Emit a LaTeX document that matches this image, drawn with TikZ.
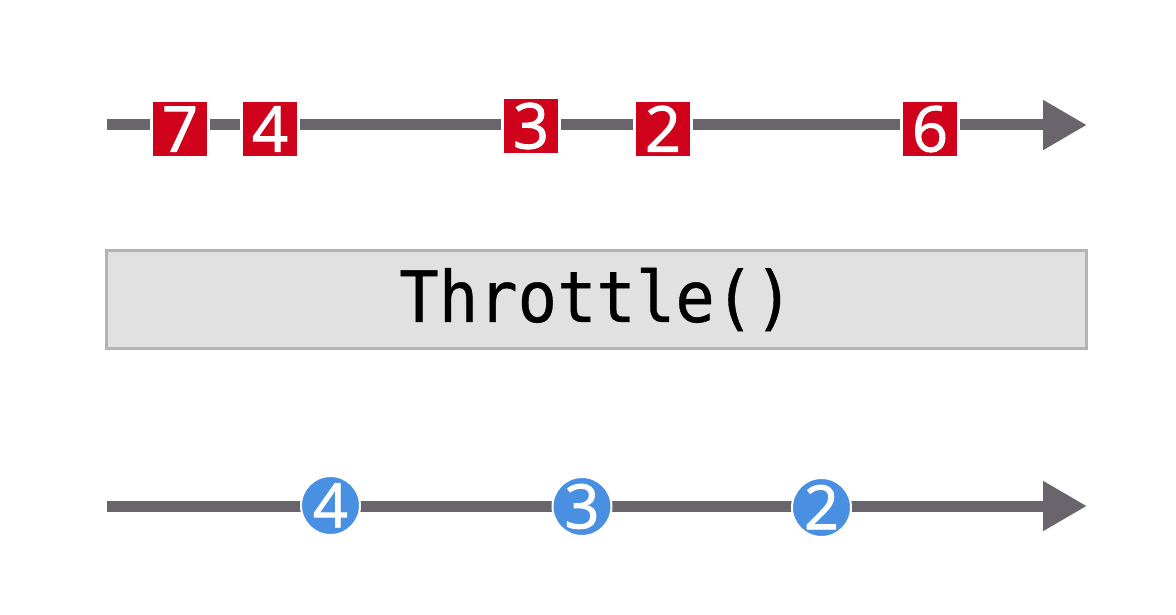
\documentclass[tikz,border=0pt]{standalone}
\usepackage{fontspec}
\usetikzlibrary{arrows.meta}
\newfontfamily\digitfont{Open Sans}[FakeBold=1.6]
\newfontfamily\codefont{DejaVu Sans Mono}[FakeBold=0.6]
\definecolor{evred}{RGB}{208,2,27}
\definecolor{evblue}{RGB}{74,144,226}
\definecolor{linegray}{RGB}{106,101,108}
\definecolor{boxfill}{RGB}{225,225,225}
\definecolor{boxborder}{RGB}{179,179,179}
\tikzset{
  timeline/.style={draw=linegray, line width=11pt, line cap=butt,
    -{Triangle[length=44pt, width=47pt]}},
  sqevent/.style={rectangle, fill=evred, draw=white, line width=3pt,
    minimum size=57pt, inner sep=0pt, text=white,
    font=\digitfont\fontsize{63}{63}\selectfont, text height=45pt, text depth=0pt},
  circevent/.style={circle, fill=evblue, draw=white, line width=2pt,
    minimum size=59pt, inner sep=0pt, text=white,
    font=\digitfont\fontsize{61}{61}\selectfont, text height=43.5pt, text depth=0pt},
  opbox/.style={rectangle, fill=boxfill, draw=boxborder, line width=3pt,
    minimum width=980pt, minimum height=98pt, inner sep=0pt,
    font=\codefont\fontsize{65.5}{65.5}\selectfont}
}
\begin{document}
\begin{tikzpicture}[x=1pt, y=-1pt]
\useasboundingbox (0,0) rectangle (1176,615);
% top timeline
\coordinate (a0) at (107,125);
\coordinate (a1) at (1087,125);
\draw[timeline] (a0) -- (a1);
\node[sqevent] (s7) at (180,129) {7};
\node[sqevent] (s4) at (270,129) {4};
\node[sqevent] (s3) at (531,126) {3};
\node[sqevent] (s2) at (663,129) {2};
\node[sqevent] (s6) at (930,129) {6};
% operator box
\node[opbox] (op) at (596.5,299.5) {\raisebox{-1pt}{\scalebox{1}[1.08]{Throttle()}}};
% bottom timeline
\coordinate (b0) at (107,506);
\coordinate (b1) at (1087,506);
\draw[timeline] (b0) -- (b1);
\node[circevent] (c4) at (330.5,505.5) {4};
\node[circevent] (c3) at (582,506.5) {3};
\node[circevent] (c2) at (821.5,507.5) {2};
\end{tikzpicture}
\end{document}
